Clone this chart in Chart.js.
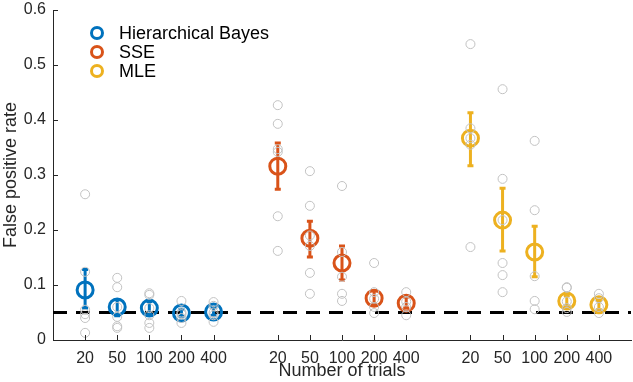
<!DOCTYPE html>
<html>
<head>
<meta charset="utf-8">
<script src="https://cdn.jsdelivr.net/npm/chart.js@4/dist/chart.umd.min.js"></script>
<style>
  html, body { margin: 0; padding: 0; background: #fff; }
  #wrap { width: 633px; height: 382px; }
</style>
</head>
<body>
<div id="wrap"><canvas id="fpChart"></canvas></div>
<script>
// methods and x layout
const methods = ['Hierarchical Bayes', 'SSE', 'MLE'];
const methodColors = ['#0072BD', '#D95319', '#EDB120'];
const trialLabels = ['20', '50', '100', '200', '400'];
const tickPos = [1, 2, 3, 4, 5, 7, 8, 9, 10, 11, 13, 14, 15, 16, 17];
const chance = 0.05;

// means and error bars
const hbMean = [0.091, 0.060, 0.058, 0.049, 0.051];
const hbLo = [0.058, 0.044, 0.047, 0.043, 0.045];
const hbHi = [0.128, 0.073, 0.070, 0.056, 0.059];
const sseMean = [0.316, 0.185, 0.140, 0.076, 0.067];
const sseLo = [0.274, 0.151, 0.109, 0.065, 0.058];
const sseHi = [0.358, 0.216, 0.171, 0.089, 0.078];
const mleMean = [0.367, 0.218, 0.160, 0.071, 0.064];
const mleLo = [0.317, 0.162, 0.115, 0.062, 0.055];
const mleHi = [0.413, 0.276, 0.207, 0.081, 0.072];

// individual runs (grey circles)
const hbRaw = [
  [0.265, 0.124, 0.055, 0.047, 0.040, 0.013],
  [0.113, 0.096, 0.060, 0.042, 0.025, 0.022],
  [0.085, 0.082, 0.058, 0.045, 0.031, 0.022],
  [0.071, 0.050, 0.047, 0.040, 0.031],
  [0.069, 0.062, 0.050, 0.045, 0.033]
];
const sseRaw = [
  [0.427, 0.393, 0.347, 0.342, 0.225, 0.162],
  [0.307, 0.244, 0.190, 0.171, 0.122, 0.084],
  [0.280, 0.160, 0.115, 0.084, 0.071],
  [0.140, 0.087, 0.075, 0.060, 0.049],
  [0.087, 0.070, 0.060, 0.045]
];
const mleRaw = [
  [0.538, 0.385, 0.367, 0.355, 0.169],
  [0.456, 0.293, 0.218, 0.140, 0.118, 0.087],
  [0.362, 0.236, 0.116, 0.071, 0.056],
  [0.096, 0.095, 0.070, 0.058, 0.051],
  [0.084, 0.076, 0.060, 0.049]
];

const means = [hbMean, sseMean, mleMean];
const lows = [hbLo, sseLo, mleLo];
const highs = [hbHi, sseHi, mleHi];
const raws = [hbRaw, sseRaw, mleRaw];

const FONT = "'Liberation Sans', Arial, sans-serif";

const greyPts = [];
raws.forEach((r, m) => r.forEach((vals, t) => vals.forEach(v => {
  greyPts.push({ x: tickPos[m * 5 + t], y: v });
})));

const meanSets = means.map((arr, m) => ({
  type: 'scatter',
  label: methods[m],
  data: arr.map((v, t) => ({ x: tickPos[m * 5 + t], y: v })),
  pointRadius: 8,
  pointBorderWidth: 3,
  borderColor: methodColors[m],
  backgroundColor: 'rgba(0,0,0,0)',
  pointBackgroundColor: 'rgba(0,0,0,0)',
  order: 1,
  errIdx: m
}));

// error bars, drawn right after each mean dataset
const errorBars = {
  id: 'errorBars',
  afterDatasetDraw(chart, args) {
    const ds = chart.data.datasets[args.index];
    if (ds.errIdx === undefined) return;
    const m = ds.errIdx;
    const xs = chart.scales.x, ys = chart.scales.y;
    const ctx = chart.ctx;
    ctx.save();
    ctx.strokeStyle = methodColors[m];
    ctx.lineWidth = 3;
    for (let t = 0; t < 5; t++) {
      const px = xs.getPixelForValue(tickPos[m * 5 + t]);
      const lo = ys.getPixelForValue(lows[m][t]);
      const hi = ys.getPixelForValue(highs[m][t]);
      ctx.beginPath();
      ctx.moveTo(px, lo); ctx.lineTo(px, hi);
      ctx.moveTo(px - 3, lo); ctx.lineTo(px + 3, lo);
      ctx.moveTo(px - 3, hi); ctx.lineTo(px + 3, hi);
      ctx.stroke();
    }
    ctx.restore();
  }
};

// MATLAB style inward ticks + legend
const extras = {
  id: 'extras',
  afterDraw(chart) {
    const ctx = chart.ctx;
    const xs = chart.scales.x, ys = chart.scales.y;
    const a = chart.chartArea;
    ctx.save();
    ctx.strokeStyle = '#262626';
    ctx.lineWidth = 1;
    ctx.beginPath();
    tickPos.forEach(v => {
      const px = Math.round(xs.getPixelForValue(v)) + 0.5;
      ctx.moveTo(px, a.bottom); ctx.lineTo(px, a.bottom - 5);
    });
    ys.ticks.forEach(tk => {
      const py = Math.round(ys.getPixelForValue(tk.value)) + 0.5;
      ctx.moveTo(a.left, py); ctx.lineTo(a.left + 5, py);
    });
    ctx.stroke();

    ctx.font = '18px ' + FONT;
    ctx.textBaseline = 'middle';
    methods.forEach((name, m) => {
      const cy = 33 + m * 19;
      ctx.beginPath();
      ctx.strokeStyle = methodColors[m];
      ctx.lineWidth = 3;
      ctx.arc(97, cy, 5.5, 0, Math.PI * 2);
      ctx.stroke();
      ctx.fillStyle = '#000';
      ctx.fillText(name, 119, cy + 1);
    });
    ctx.restore();
  }
};

new Chart(document.getElementById('fpChart'), {
  type: 'scatter',
  data: {
    datasets: [
      {
        type: 'scatter',
        label: 'runs',
        data: greyPts,
        pointRadius: 4.5,
        pointBorderWidth: 1,
        borderColor: '#c2c2c2',
        pointBackgroundColor: 'rgba(0,0,0,0)',
        order: 0
      },
      ...meanSets,
      {
        type: 'line',
        label: 'chance',
        data: [{ x: 0, y: chance }, { x: 18, y: chance }],
        borderColor: '#000',
        borderWidth: 3,
        borderDash: [14, 9],
        pointRadius: 0,
        order: 2
      }
    ]
  },
  options: {
    responsive: true,
    maintainAspectRatio: false,
    animation: false,
    layout: { autoPadding: false, padding: { top: 10, right: 2, left: 0, bottom: 0 } },
    plugins: { legend: { display: false }, tooltip: { enabled: false } },
    scales: {
      x: {
        type: 'linear',
        min: 0, max: 18,
        afterBuildTicks: s => { s.ticks = tickPos.map(v => ({ value: v })); },
        afterFit: s => { s.height = 42; s.paddingLeft = 0; s.paddingRight = 0; },
        grid: { display: false, drawTicks: false },
        border: { display: true, color: '#262626', width: 1 },
        ticks: {
          padding: 9,
          color: '#262626',
          font: { family: FONT, size: 16 },
          maxRotation: 0,
          autoSkip: false,
          callback: v => trialLabels[tickPos.indexOf(v) % 5]
        },
        title: {
          display: true, text: 'Number of trials', color: '#262626',
          font: { family: FONT, size: 18 }, padding: 0
        }
      },
      y: {
        min: 0, max: 0.6,
        afterFit: s => { s.width = 53; s.paddingTop = 0; s.paddingBottom = 0; },
        grid: { display: false, drawTicks: false },
        border: { display: true, color: '#262626', width: 1 },
        ticks: {
          stepSize: 0.1,
          padding: 7,
          color: '#262626',
          font: { family: FONT, size: 16 },
          callback: v => (Math.round(v * 10) / 10).toString()
        },
        title: {
          display: true, text: 'False positive rate', color: '#262626',
          font: { family: FONT, size: 18 }, padding: 0
        }
      }
    }
  },
  plugins: [errorBars, extras]
});
</script>
</body>
</html>
